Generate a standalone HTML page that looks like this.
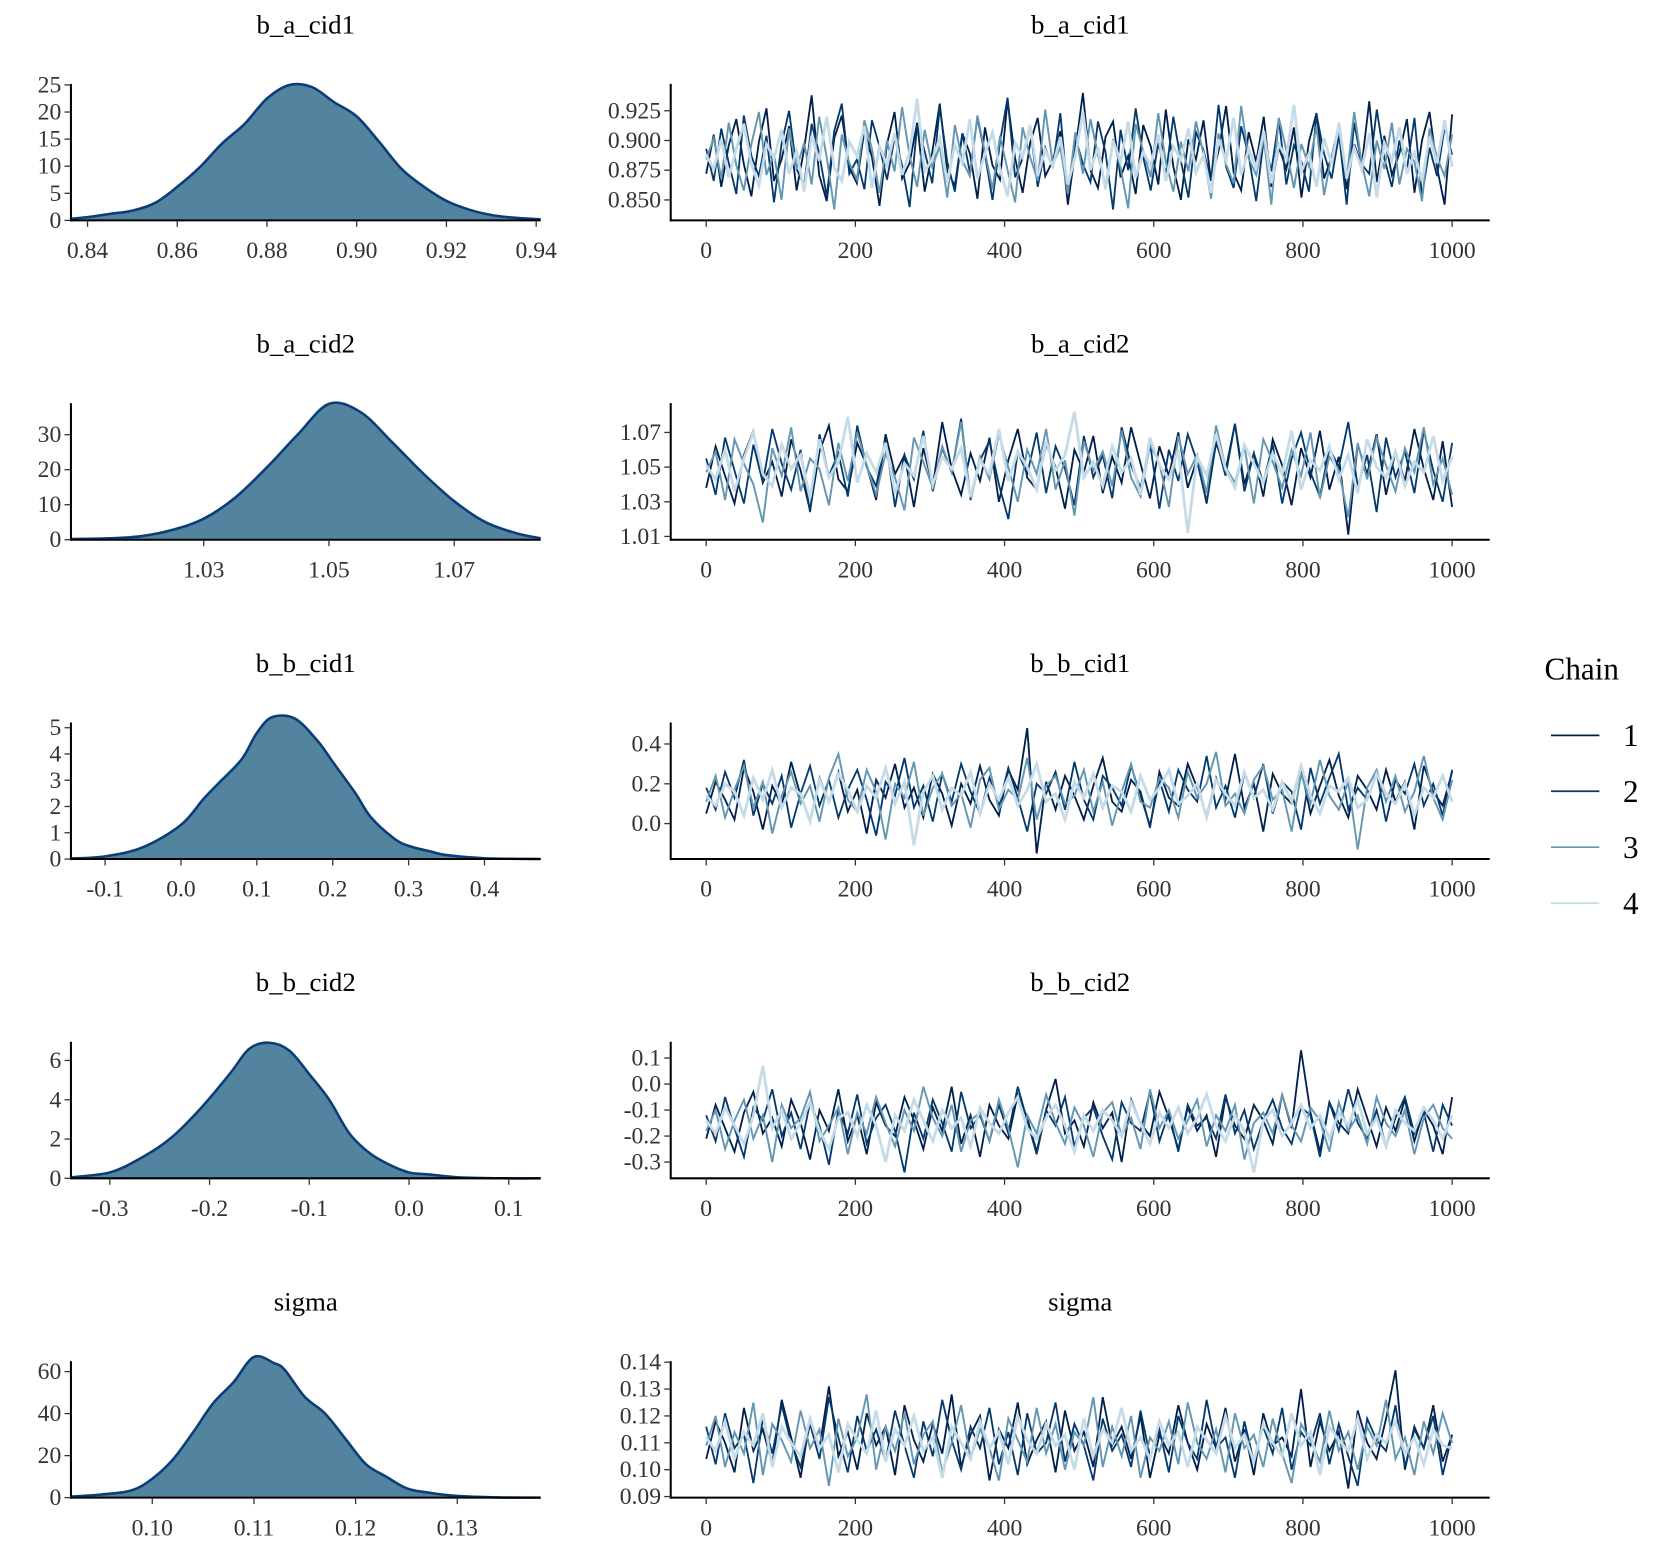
<!DOCTYPE html>
<html><head><meta charset="utf-8"><title>MCMC trace and density</title>
<style>
html,body{margin:0;padding:0;background:#fff;}
svg{display:block;font-family:"Liberation Serif","DejaVu Serif",serif;}
</style></head>
<body>
<svg id="chart" width="1680" height="1560" viewBox="0 0 1563 1451" preserveAspectRatio="none" xmlns="http://www.w3.org/2000/svg">
<g>
<text x="1437" y="632" font-size="29" fill="#000">Chain</text>
<line x1="1443" y1="684" x2="1488" y2="684" stroke="#011f4b" stroke-width="1.6"/>
<text x="1510" y="694" font-size="29" fill="#000">1</text>
<line x1="1443" y1="736" x2="1488" y2="736" stroke="#03396c" stroke-width="1.6"/>
<text x="1510" y="746" font-size="29" fill="#000">2</text>
<line x1="1443" y1="788" x2="1488" y2="788" stroke="#6497b1" stroke-width="1.6"/>
<text x="1510" y="798" font-size="29" fill="#000">3</text>
<line x1="1443" y1="840" x2="1488" y2="840" stroke="#c6dbe8" stroke-width="1.6"/>
<text x="1510" y="850" font-size="29" fill="#000">4</text>
</g>
</svg>
<script>
const paramNames = ["b_a_cid1","b_a_cid2","b_b_cid1","b_b_cid2","sigma"];
const chainColors = ["#011f4b","#03396c","#6497b1","#c6dbe8"];

// density curves (x grid, density)
const densX_a1 = [0.8363,0.84,0.845,0.85,0.855,0.86,0.865,0.87,0.875,0.88,0.885,0.89,0.895,0.90,0.905,0.91,0.915,0.92,0.925,0.93,0.935,0.941];
const densY_a1 = [0.3,0.6,1.2,1.8,3.2,6.2,9.8,14.2,17.8,22.5,25,24.6,21.8,19.2,14.5,9.5,6.2,3.6,2.0,1.0,0.5,0.2];
const densX_a2 = [1.0088,1.015,1.02,1.025,1.03,1.035,1.04,1.045,1.05,1.055,1.06,1.065,1.07,1.075,1.08,1.0838];
const densY_a2 = [0.2,0.4,1.0,2.8,6.0,12,20.5,30,38.8,36.5,28,19,11,5,1.8,0.4];
const densX_b1 = [-0.145,-0.1,-0.05,0.0,0.03,0.05,0.08,0.1,0.12,0.15,0.18,0.2,0.23,0.25,0.28,0.3,0.33,0.35,0.4,0.474];
const densY_b1 = [0.02,0.1,0.45,1.3,2.3,2.9,3.8,4.8,5.4,5.35,4.5,3.7,2.5,1.6,0.8,0.5,0.28,0.15,0.03,0.0];
const densX_b2 = [-0.339,-0.3,-0.27,-0.24,-0.21,-0.18,-0.16,-0.14,-0.12,-0.1,-0.08,-0.06,-0.04,-0.02,0.0,0.02,0.05,0.1,0.132];
const densY_b2 = [0.05,0.3,1.0,2.0,3.5,5.3,6.6,6.9,6.5,5.3,4.0,2.3,1.3,0.7,0.3,0.2,0.05,0.0,0.0];
const densX_s = [0.092,0.095,0.098,0.10,0.102,0.104,0.106,0.108,0.110,0.112,0.113,0.115,0.117,0.119,0.121,0.123,0.125,0.127,0.13,0.134,0.1382];
const densY_s = [0.5,1.5,3.5,9,18,31,45,55,67,64,61,48,40,28,16,10,4.5,2.5,0.8,0.1,0.0];

// density y-ticks / x-ticks
const densXTicks = [[0.84,0.86,0.88,0.90,0.92,0.94],[1.03,1.05,1.07],[-0.1,0.0,0.1,0.2,0.3,0.4],[-0.3,-0.2,-0.1,0.0,0.1],[0.10,0.11,0.12,0.13]];
const densXLabels = [["0.84","0.86","0.88","0.90","0.92","0.94"],["1.03","1.05","1.07"],["-0.1","0.0","0.1","0.2","0.3","0.4"],["-0.3","-0.2","-0.1","0.0","0.1"],["0.10","0.11","0.12","0.13"]];
const densYTicks = [[0,5,10,15,20,25],[0,10,20,30],[0,1,2,3,4,5],[0,2,4,6],[0,20,40,60]];
const densDomains = [[0.8363,0.941],[1.0088,1.0838],[-0.145,0.474],[-0.339,0.132],[0.092,0.1382]];
const densYMax = [25.2,39,5.2,6.95,65];

// trace ticks
const iterTicks = [0,200,400,600,800,1000];
const traceYTicks = [[0.850,0.875,0.900,0.925],[1.01,1.03,1.05,1.07],[0.0,0.2,0.4],[-0.3,-0.2,-0.1,0.0,0.1],[0.09,0.10,0.11,0.12,0.13,0.14]];
const traceYLabels = [["0.850","0.875","0.900","0.925"],["1.01","1.03","1.05","1.07"],["0.0","0.2","0.4"],["-0.3","-0.2","-0.1","0.0","0.1"],["0.09","0.10","0.11","0.12","0.13","0.14"]];
const traceDomains = [[0.8328,0.9476],[1.0081,1.0869],[-0.178,0.508],[-0.3625,0.1625],[0.0896,0.1404]];

// chain draws (thinned)
const a1_c1 = [.872,.905,.861,.896,.918,.880,.853,.899,.927,.866,.884,.912,.858,.893,.938,.871,.849,.902,.921,.877,.864,.909,.886,.845,.897,.924,.868,.881,.915,.857,.890,.931,.874,.862,.906,.889,.851,.911,.879,.867,.934,.885,.856,.898,.919,.870,.883,.908,.846,.892,.940,.875,.860,.903,.916,.869,.887,.855,.913,.895,.863,.926,.878,.850,.901,.884,.917,.866,.891,.929,.873,.858,.907,.882,.920,.861,.894,.876,.911,.852,.899,.923,.868,.886,.914,.859,.897,.879,.933,.865,.904,.871,.889,.918,.856,.900,.924,.877,.846,.922];
const a1_c2 = [.893,.866,.910,.881,.855,.921,.887,.870,.904,.848,.897,.925,.876,.862,.914,.889,.853,.908,.931,.872,.884,.859,.917,.895,.867,.902,.879,.844,.913,.891,.864,.928,.882,.857,.906,.873,.919,.888,.850,.899,.936,.869,.885,.911,.861,.894,.877,.923,.854,.903,.880,.865,.916,.890,.842,.909,.875,.927,.886,.858,.898,.871,.920,.883,.852,.907,.892,.866,.930,.878,.860,.912,.887,.849,.901,.874,.918,.863,.896,.882,.857,.922,.889,.868,.905,.846,.915,.880,.872,.926,.885,.861,.900,.876,.919,.853,.894,.870,.911,.888];
const a1_c3 = [.884,.902,.868,.915,.879,.858,.897,.924,.871,.889,.850,.910,.876,.898,.863,.920,.886,.842,.905,.881,.867,.917,.893,.856,.900,.874,.928,.887,.861,.909,.878,.895,.852,.913,.883,.870,.921,.890,.859,.904,.875,.848,.911,.886,.866,.926,.880,.894,.855,.907,.872,.918,.888,.862,.901,.877,.843,.914,.891,.869,.923,.882,.857,.899,.874,.916,.889,.851,.906,.880,.864,.929,.885,.871,.903,.846,.919,.892,.860,.897,.878,.912,.854,.887,.908,.868,.924,.881,.853,.900,.876,.915,.863,.893,.882,.849,.910,.886,.870,.905];
const a1_c4 = [.888,.876,.901,.869,.893,.914,.880,.862,.897,.885,.909,.872,.891,.857,.904,.883,.920,.877,.866,.899,.887,.912,.860,.895,.879,.906,.871,.890,.935,.874,.884,.902,.865,.896,.881,.918,.868,.889,.907,.876,.853,.898,.886,.913,.870,.892,.878,.903,.863,.887,.924,.875,.894,.859,.900,.882,.916,.869,.890,.879,.905,.866,.895,.884,.910,.873,.888,.856,.901,.883,.919,.871,.893,.877,.908,.864,.897,.885,.930,.874,.889,.861,.902,.880,.915,.868,.894,.876,.906,.852,.898,.883,.911,.872,.890,.866,.903,.881,.917,.878];

const a2_c1 = [1.038,1.062,1.045,1.029,1.057,1.071,1.041,1.053,1.033,1.066,1.048,1.025,1.059,1.074,1.043,1.036,1.064,1.051,1.031,1.069,1.046,1.057,1.027,1.061,1.039,1.076,1.049,1.034,1.058,1.042,1.067,1.030,1.054,1.072,1.044,1.037,1.063,1.050,1.026,1.060,1.047,1.068,1.035,1.056,1.041,1.073,1.052,1.032,1.062,1.045,1.070,1.038,1.055,1.029,1.064,1.048,1.075,1.040,1.058,1.033,1.066,1.051,1.028,1.061,1.044,1.071,1.037,1.056,1.011,1.063,1.046,1.069,1.034,1.059,1.042,1.072,1.049,1.031,1.065,1.027];
const a2_c2 = [1.055,1.034,1.067,1.048,1.029,1.063,1.041,1.072,1.052,1.037,1.060,1.024,1.069,1.045,1.058,1.033,1.074,1.050,1.039,1.066,1.027,1.057,1.043,1.071,1.036,1.061,1.047,1.078,1.031,1.054,1.065,1.040,1.020,1.059,1.046,1.070,1.035,1.062,1.049,1.028,1.068,1.044,1.057,1.032,1.073,1.051,1.038,1.064,1.026,1.060,1.042,1.069,1.053,1.030,1.066,1.045,1.075,1.036,1.058,1.041,1.063,1.029,1.055,1.070,1.047,1.033,1.061,1.050,1.076,1.039,1.057,1.024,1.067,1.044,1.059,1.035,1.071,1.048,1.030,1.064];
const a2_c3 = [1.047,1.059,1.031,1.066,1.052,1.040,1.018,1.061,1.045,1.073,1.036,1.055,1.049,1.028,1.064,1.042,1.070,1.051,1.034,1.058,1.044,1.025,1.067,1.053,1.038,1.062,1.047,1.076,1.032,1.056,1.043,1.069,1.050,1.030,1.060,1.046,1.072,1.037,1.054,1.022,1.065,1.048,1.059,1.039,1.071,1.044,1.033,1.063,1.052,1.027,1.068,1.046,1.057,1.035,1.074,1.050,1.041,1.062,1.029,1.066,1.053,1.038,1.060,1.045,1.070,1.032,1.056,1.048,1.021,1.064,1.043,1.067,1.051,1.036,1.061,1.047,1.073,1.040,1.055,1.034];
const a2_c4 = [1.051,1.043,1.060,1.036,1.055,1.070,1.046,1.039,1.063,1.049,1.057,1.032,1.066,1.044,1.053,1.079,1.041,1.058,1.047,1.064,1.035,1.052,1.045,1.068,1.040,1.056,1.049,1.061,1.033,1.054,1.046,1.072,1.042,1.059,1.050,1.037,1.065,1.048,1.057,1.082,1.044,1.053,1.039,1.062,1.047,1.055,1.034,1.067,1.051,1.043,1.060,1.012,1.056,1.045,1.069,1.049,1.038,1.063,1.052,1.041,1.058,1.046,1.071,1.037,1.054,1.048,1.062,1.043,1.057,1.035,1.066,1.050,1.044,1.059,1.039,1.053,1.047,1.068,1.042,1.056];

const b1_c1 = [.05,.21,.12,.02,.28,.16,-.03,.19,.09,.31,.14,.01,.23,.11,.26,.06,.17,-.05,.22,.13,.30,.08,.18,.03,.25,.15,-.01,.20,.10,.29,.12,.04,.27,.17,.48,-.15,.21,.07,.24,.14,.02,.19,.33,.11,.06,.22,.16,-.02,.26,.13,.09,.30,.18,.04,.23,.12,.35,.08,.20,-.04,.25,.15,.10,.28,.05,.19,.32,.14,.03,.24,.17,.07,.27,.11,.21,-.03,.29,.16,.09,.26];
const b1_c2 = [.18,.07,.26,.13,.32,.04,.20,.10,.24,-.02,.15,.29,.09,.22,.03,.17,.27,.12,-.06,.21,.14,.33,.08,.19,.01,.25,.11,.30,.16,.05,.23,.09,.28,.13,-.04,.20,.15,.26,.07,.31,.12,.02,.24,.18,.09,.29,.14,-.01,.22,.06,.27,.17,.11,.34,.08,.19,.03,.25,.13,.30,.05,.21,.16,-.03,.28,.10,.23,.35,.07,.18,.12,.26,.01,.22,.15,.30,.09,.20,.04,.27];
const b1_c3 = [.11,.24,.03,.17,.29,.08,.21,-.05,.14,.26,.10,.19,.01,.23,.35,.12,.06,.27,.16,-.08,.20,.13,.31,.04,.18,.25,.09,.15,-.02,.22,.28,.07,.17,.12,.33,.02,.19,.24,.10,.14,.27,.06,.21,-.01,.16,.30,.11,.08,.23,.18,.03,.26,.13,.20,.36,.09,.15,.05,.22,.29,.12,.17,-.04,.25,.10,.32,.14,.07,.21,-.13,.18,.27,.11,.24,.06,.16,.34,.13,.02,.22];
const b1_c4 = [.14,.09,.20,.16,.04,.23,.12,.27,.08,.18,.15,.01,.22,.11,.25,.17,.06,.19,.13,.28,.10,.21,-.11,.16,.24,.07,.18,.14,.26,.05,.20,.12,.23,.09,.17,.30,.11,.15,.02,.21,.13,.25,.08,.19,.16,.06,.24,.12,.18,.27,.10,.14,.20,.03,.22,.15,.09,.26,.13,.17,.07,.21,.11,.29,.14,.05,.19,.16,.23,.08,.12,.25,.15,.10,.20,.04,.18,.13,.24,.11];

const b2_c1 = [-.21,-.08,-.17,-.26,-.11,-.03,-.19,-.13,-.24,-.06,-.15,-.29,-.10,-.18,-.02,-.22,-.12,-.27,-.07,-.16,-.20,-.05,-.14,-.25,-.09,-.18,-.01,-.23,-.12,-.28,-.08,-.16,-.21,-.04,-.13,-.26,-.10,.02,-.19,-.14,-.24,-.07,-.17,-.11,-.30,-.06,-.15,-.20,-.03,-.13,-.25,-.09,-.18,-.12,-.28,-.05,-.16,-.21,-.08,-.14,-.23,-.04,-.17,.13,-.11,-.26,-.07,-.15,-.19,-.02,-.13,-.24,-.09,-.18,-.06,-.22,-.10,-.16,-.27,-.05];
const b2_c2 = [-.12,-.22,-.05,-.17,-.28,-.09,-.14,-.02,-.20,-.11,-.25,-.07,-.16,-.31,-.10,-.19,-.04,-.23,-.13,-.08,-.18,-.34,-.11,-.21,-.06,-.15,-.26,-.03,-.17,-.12,-.22,-.08,-.19,-.01,-.14,-.27,-.10,-.16,-.05,-.24,-.13,-.09,-.20,-.29,-.07,-.15,-.18,-.03,-.22,-.11,-.26,-.08,-.16,-.13,-.21,-.04,-.19,-.10,-.25,-.14,-.06,-.17,-.23,-.09,-.12,-.28,-.07,-.18,-.02,-.15,-.21,-.10,-.24,-.13,-.05,-.19,-.11,-.26,-.08,-.16];
const b2_c3 = [-.18,-.10,-.25,-.14,-.06,-.21,-.12,-.30,-.08,-.17,-.13,-.03,-.22,-.16,-.09,-.27,-.11,-.19,-.05,-.15,-.24,-.10,-.18,-.01,-.13,-.20,-.08,-.26,-.14,-.11,-.22,-.06,-.17,-.32,-.12,-.19,-.04,-.15,-.23,-.09,-.16,-.28,-.11,-.07,-.20,-.13,-.25,-.02,-.17,-.10,-.21,-.14,-.06,-.24,-.12,-.18,-.08,-.29,-.15,-.11,-.19,-.04,-.16,-.22,-.09,-.14,-.26,-.07,-.18,-.12,-.23,-.05,-.15,-.20,-.10,-.27,-.13,-.08,-.17,-.21];
const b2_c4 = [-.14,-.19,-.09,-.16,-.23,-.12,.07,-.17,-.10,-.21,-.15,-.07,-.18,-.25,-.13,-.11,-.20,-.08,-.16,-.30,-.12,-.18,-.06,-.14,-.22,-.10,-.17,-.13,-.24,-.09,-.15,-.19,-.11,-.05,-.17,-.21,-.13,-.08,-.16,-.26,-.12,-.18,-.10,-.14,-.20,-.07,-.15,-.23,-.11,-.17,-.09,-.19,-.13,-.04,-.16,-.22,-.12,-.18,-.34,-.14,-.10,-.20,-.15,-.08,-.17,-.12,-.21,-.11,-.16,-.06,-.19,-.13,-.24,-.10,-.15,-.18,-.09,-.14,-.21,-.12];

const s_c1 = [.104,.118,.110,.099,.123,.107,.115,.102,.126,.112,.097,.119,.108,.131,.105,.114,.100,.121,.109,.116,.098,.124,.111,.103,.117,.106,.128,.101,.113,.120,.096,.115,.108,.125,.102,.111,.118,.099,.122,.107,.114,.101,.127,.109,.116,.104,.120,.097,.113,.106,.124,.110,.100,.117,.108,.123,.103,.115,.098,.121,.109,.112,.105,.130,.101,.118,.107,.114,.093,.122,.110,.104,.119,.137,.100,.116,.108,.124,.103,.113];
const s_c2 = [.116,.102,.121,.108,.113,.095,.119,.106,.124,.110,.101,.117,.104,.127,.112,.099,.120,.107,.115,.103,.122,.109,.097,.118,.105,.126,.111,.100,.116,.108,.123,.102,.114,.098,.121,.106,.110,.125,.103,.117,.109,.096,.119,.107,.113,.101,.122,.105,.115,.099,.120,.110,.104,.126,.108,.112,.097,.118,.103,.116,.106,.123,.100,.114,.109,.121,.102,.117,.105,.094,.119,.111,.107,.124,.101,.115,.108,.120,.098,.113];
const s_c3 = [.109,.120,.101,.114,.106,.125,.098,.117,.111,.103,.122,.108,.115,.094,.119,.105,.112,.128,.100,.116,.107,.121,.102,.113,.118,.099,.110,.124,.104,.115,.108,.096,.119,.111,.103,.123,.106,.117,.100,.114,.109,.127,.101,.116,.105,.120,.097,.112,.107,.118,.102,.125,.110,.104,.115,.099,.121,.108,.113,.101,.119,.106,.095,.117,.111,.103,.122,.107,.114,.100,.116,.109,.126,.104,.112,.098,.118,.106,.121,.110];
const s_c4 = [.112,.107,.118,.104,.114,.109,.121,.101,.116,.110,.105,.119,.108,.113,.099,.117,.111,.106,.122,.103,.115,.109,.120,.107,.112,.097,.116,.110,.104,.118,.108,.114,.102,.120,.111,.106,.117,.109,.113,.100,.119,.105,.115,.110,.123,.107,.112,.104,.118,.109,.114,.101,.116,.111,.106,.120,.108,.113,.103,.117,.110,.105,.121,.109,.114,.098,.116,.111,.107,.119,.104,.113,.110,.118,.106,.112,.102,.115,.109,.108];

const densXs = [densX_a1,densX_a2,densX_b1,densX_b2,densX_s];
const densYs = [densY_a1,densY_a2,densY_b1,densY_b2,densY_s];
const chains = [[a1_c1,a1_c2,a1_c3,a1_c4],[a2_c1,a2_c2,a2_c3,a2_c4],[b1_c1,b1_c2,b1_c3,b1_c4],[b2_c1,b2_c2,b2_c3,b2_c4],[s_c1,s_c2,s_c3,s_c4]];
const chainWidths = [1.7,1.7,1.8,2.6];

const NS = "http://www.w3.org/2000/svg";
const svg = document.getElementById("chart");
function mk(tag, attrs, parent){ const e=document.createElementNS(NS,tag); for(const k in attrs) e.setAttribute(k,attrs[k]); (parent||svg).appendChild(e); return e; }
function lin(d0,d1,r0,r1){ return v => r0 + (v-d0)/(d1-d0)*(r1-r0); }
function smoothPath(pts){
  let d = "M"+pts[0][0].toFixed(2)+","+pts[0][1].toFixed(2);
  for(let i=0;i<pts.length-1;i++){
    const p0=pts[Math.max(0,i-1)], p1=pts[i], p2=pts[i+1], p3=pts[Math.min(pts.length-1,i+2)];
    const c1x=p1[0]+(p2[0]-p0[0])/6, c1y=p1[1]+(p2[1]-p0[1])/6;
    const c2x=p2[0]-(p3[0]-p1[0])/6, c2y=p2[1]-(p3[1]-p1[1])/6;
    d += " C"+c1x.toFixed(2)+","+c1y.toFixed(2)+" "+c2x.toFixed(2)+","+c2y.toFixed(2)+" "+p2[0].toFixed(2)+","+p2[1].toFixed(2);
  }
  return d;
}

const D_L=66, D_R=503, T_L=624, T_R=1386, IT0=657, IT1=1351;
const TICK="#333333";
for(let r=0;r<5;r++){
  const base = 205 + r*297, top = base - 127;
  const slug = paramNames[r].replace(/_/g,'-');
  const gd = mk("g",{});
  
  
  const xs = lin(densDomains[r][0],densDomains[r][1],D_L,D_R);
  const ys = lin(0,densYMax[r],base,top);
  const dx = densXs[r], dy = densYs[r];
  const pts = dx.map((v,i)=>[xs(v), Math.min(base, ys(dy[i]))]);
  const curve = smoothPath(pts);
  const area = mk("path",{d:curve+" L"+pts[pts.length-1][0]+","+base+" L"+pts[0][0]+","+base+" Z",fill:"#52849f",stroke:"none"},gd);
  
  
  const dl = mk("path",{d:curve,fill:"none",stroke:"#0b3d79","stroke-width":2.4,"stroke-linejoin":"round"},gd);
  
  
  const t1 = mk("text",{x:(D_L+D_R)/2,y:base-174,"text-anchor":"middle","font-size":25,fill:"#000"},gd);
  t1.textContent = paramNames[r];
  
  
  mk("line",{x1:D_L,y1:base,x2:D_R,y2:base,stroke:"#000","stroke-width":1.9},gd);
  mk("line",{x1:D_L,y1:top,x2:D_L,y2:base+1,stroke:"#000","stroke-width":1.9},gd);
  densXTicks[r].forEach((v,i)=>{
    const x=xs(v);
    mk("line",{x1:x,y1:base,x2:x,y2:base+6,stroke:"#333","stroke-width":1.2},gd);
    const t=mk("text",{x:x,y:base+35,"text-anchor":"middle","font-size":22,fill:TICK},gd);
    t.textContent=densXLabels[r][i];
    
    
  });
  densYTicks[r].forEach(v=>{
    const y=ys(v);
    mk("line",{x1:D_L-6,y1:y,x2:D_L,y2:y,stroke:"#333","stroke-width":1.2},gd);
    const t=mk("text",{x:D_L-9,y:y+7,"text-anchor":"end","font-size":22,fill:TICK},gd);
    t.textContent=String(v);
    
    
  });
  const gt = mk("g",{});
  
  
  const ty = lin(traceDomains[r][0],traceDomains[r][1],base,top);
  const tx = lin(0,1000,IT0,IT1);
  chains[r].forEach((arr,c)=>{
    let d="";
    const n=arr.length;
    for(let i=0;i<n;i++) d += (i?" L":"M")+tx(i*1000/(n-1)).toFixed(2)+","+ty(arr[i]).toFixed(2);
    const pl = mk("path",{d:d,fill:"none",stroke:chainColors[c],"stroke-width":chainWidths[c],"stroke-linejoin":"miter"},gt);
    
    
  });
  const t2 = mk("text",{x:(T_L+T_R)/2,y:base-174,"text-anchor":"middle","font-size":25,fill:"#000"},gt);
  t2.textContent = paramNames[r];
  
  
  mk("line",{x1:T_L,y1:base,x2:T_R,y2:base,stroke:"#000","stroke-width":1.9},gt);
  mk("line",{x1:T_L,y1:top,x2:T_L,y2:base+1,stroke:"#000","stroke-width":1.9},gt);
  iterTicks.forEach(v=>{
    const x=tx(v);
    mk("line",{x1:x,y1:base,x2:x,y2:base+6,stroke:"#333","stroke-width":1.2},gt);
    const t=mk("text",{x:x,y:base+35,"text-anchor":"middle","font-size":22,fill:TICK},gt);
    t.textContent=String(v);
    
    
  });
  traceYTicks[r].forEach((v,i)=>{
    const y=ty(v);
    mk("line",{x1:T_L-6,y1:y,x2:T_L,y2:y,stroke:"#333","stroke-width":1.2},gt);
    const t=mk("text",{x:T_L-9,y:y+7,"text-anchor":"end","font-size":22,fill:TICK},gt);
    t.textContent=traceYLabels[r][i];
    
    
  });
}
</script>
</body></html>
